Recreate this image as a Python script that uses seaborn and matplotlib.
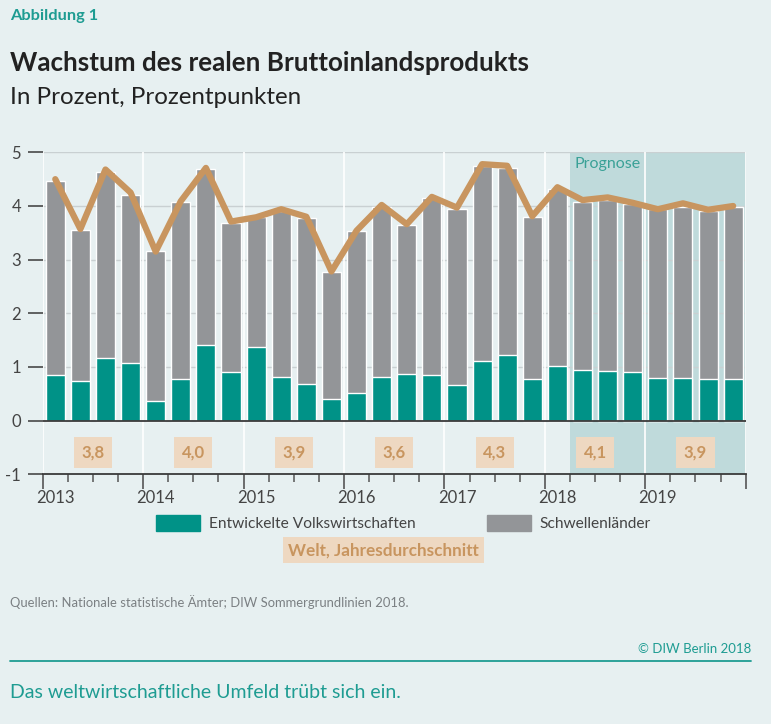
import numpy as np
import matplotlib
matplotlib.use("Agg")
import matplotlib.pyplot as plt
import matplotlib.lines as mlines
import matplotlib.patches as mpatches
from matplotlib.ticker import FixedLocator
import seaborn as sns

# Quarterly GDP growth, 2013Q1 .. 2019Q4 (from 2018Q2 on: forecast)
quarters = ["2013Q1", "2013Q2", "2013Q3", "2013Q4",
            "2014Q1", "2014Q2", "2014Q3", "2014Q4",
            "2015Q1", "2015Q2", "2015Q3", "2015Q4",
            "2016Q1", "2016Q2", "2016Q3", "2016Q4",
            "2017Q1", "2017Q2", "2017Q3", "2017Q4",
            "2018Q1", "2018Q2", "2018Q3", "2018Q4",
            "2019Q1", "2019Q2", "2019Q3", "2019Q4"]
developed = [0.85, 0.74, 1.17, 1.07, 0.37, 0.78, 1.41, 0.91,
             1.37, 0.81, 0.68, 0.40, 0.52, 0.81, 0.87, 0.85,
             0.66, 1.11, 1.22, 0.78, 1.02, 0.94, 0.93, 0.91,
             0.80, 0.80, 0.78, 0.78]
emerging = [3.62, 2.81, 3.46, 3.13, 2.79, 3.29, 3.28, 2.78,
            2.42, 3.10, 3.10, 2.37, 3.01, 3.17, 2.78, 3.30,
            3.28, 3.64, 3.49, 3.02, 3.30, 3.13, 3.18, 3.13,
            3.14, 3.18, 3.13, 3.20]
world = [4.50, 3.57, 4.68, 4.25, 3.15, 4.09, 4.71, 3.71,
         3.79, 3.94, 3.80, 2.78, 3.54, 4.02, 3.66, 4.17,
         3.97, 4.78, 4.75, 3.81, 4.35, 4.11, 4.16, 4.06,
         3.94, 4.05, 3.93, 4.00]
year_labels = ["2013", "2014", "2015", "2016", "2017", "2018", "2019"]
year_avg = [3.8, 4.0, 3.9, 3.6, 4.3, 4.1, 3.9]
forecast_start = "2018Q2"

bg = "#e7f0f1"
shade = "#bfdadb"
teal = "#009287"
teal_txt = "#1e9c92"
grey = "#939598"
tan = "#c8955f"
tan_light = "#eed8c1"
dark = "#3a3a3a"

sns.set_theme(style="white")
plt.rcParams["font.family"] = ["Lato", "DejaVu Sans"]
plt.rcParams["axes.unicode_minus"] = False

fig = plt.figure(figsize=(7.71, 7.24), dpi=100, facecolor=bg)
ax = fig.add_axes([0.0554, 0.3449, 0.9118, 0.4447])
ax.set_facecolor(bg)

n = len(quarters)
stack = np.array(developed) + np.array(emerging)
sns.barplot(x=quarters, y=stack, color=grey, width=0.76, saturation=1,
            ax=ax, zorder=3)
sns.barplot(x=quarters, y=developed, color=teal, width=0.76, saturation=1,
            ax=ax, zorder=3)
sns.lineplot(x=np.arange(n), y=world, color=tan, linewidth=4.5, ax=ax,
             zorder=4)

# forecast area
fs = quarters.index(forecast_start) - 0.5
ax.axvspan(fs, n - 0.5, color=shade, lw=0, zorder=0)
ax.text(fs + 0.2, 4.78, "Prognose", color="#3aa197", fontsize=11.5,
        ha="left", va="center", zorder=6)

# grid
year_edges = np.arange(-0.5, n, 4)
for v in range(1, 6):
    ax.axhline(v, color="#c9d0d2", lw=1, zorder=1)
for b in year_edges:
    ax.axvline(b, color="white", lw=1.2, zorder=1)
ax.axhline(0, color=dark, lw=1.3, zorder=5)

ax.set_xlim(-0.5, n - 0.5)
ax.set_ylim(-1, 5)
for s in ["top", "right", "left"]:
    ax.spines[s].set_visible(False)
ax.spines["bottom"].set_color(dark)
ax.spines["bottom"].set_linewidth(1.3)

ax.set_yticks(range(-1, 6))
ax.tick_params(axis="y", length=10.5, width=1.1, color=dark, pad=5,
               labelsize=12, labelcolor="#444444", left=True)
ax.set_xticks(year_edges)
ax.set_xticklabels([""] * len(year_edges))
ax.xaxis.set_minor_locator(FixedLocator([e + k for e in year_edges[:-1] for k in (1, 2, 3)]))
ax.tick_params(axis="x", which="major", length=11, width=1.2, color="#555555", bottom=True)
ax.tick_params(axis="x", which="minor", length=5.5, width=1.1, color="#555555", bottom=True)
ax.set_xlabel("")
ax.set_ylabel("")

for i, lab in enumerate(year_labels):
    ax.annotate(lab, xy=(i * 4, -1), xytext=(0, -17), textcoords="offset points",
                ha="center", va="center", fontsize=12, color="#444444")
    ax.text(i * 4 + 1.5, -0.6, f"{year_avg[i]:.1f}".replace(".", ","),
            ha="center", va="center", fontsize=12, fontweight="bold",
            color=tan, zorder=6,
            bbox=dict(boxstyle="square,pad=0.45", fc=tan_light, ec="none"))

# header
fig.text(10 / 771, 0.978, "Abbildung 1", fontsize=11.8, fontweight="bold",
         color=teal_txt, va="center")
fig.text(10 / 771, 0.913, "Wachstum des realen Bruttoinlandsprodukts",
         fontsize=18.7, fontweight="bold", color="#222222", va="center")
fig.text(10 / 771, 0.866, "In Prozent, Prozentpunkten", fontsize=17.4,
         color="#222222", va="center")

# legend
handles = [mpatches.Patch(color=teal), mpatches.Patch(color=grey)]
leg = fig.legend(handles, ["Entwickelte Volkswirtschaften", "Schwellenländer"],
                 loc="center left", bbox_to_anchor=(156 / 771, 0.278), ncol=2,
                 frameon=False, fontsize=11.2, handlelength=2.8,
                 handleheight=1.25, handletextpad=0.6, columnspacing=4.6,
                 borderpad=0, borderaxespad=0)
for t in leg.get_texts():
    t.set_color("#444444")
fig.text(0.497, 0.240, "Welt, Jahresdurchschnitt", ha="center", va="center",
         fontsize=12.3, fontweight="bold", color=tan,
         bbox=dict(boxstyle="square,pad=0.3", fc=tan_light, ec="none"))

# footer
fig.text(10 / 771, 0.169, "Quellen: Nationale statistische Ämter; DIW Sommergrundlinien 2018.",
         fontsize=9.4, color="#7b8083", va="center")
fig.text(751 / 771, 0.104, "© DIW Berlin 2018", fontsize=9.5, color=teal_txt,
         ha="right", va="center")
fig.add_artist(mlines.Line2D([10 / 771, 751 / 771], [0.087, 0.087],
                             color=teal_txt, lw=1.3))
fig.text(10 / 771, 0.043, "Das weltwirtschaftliche Umfeld trübt sich ein.",
         fontsize=14, color=teal_txt, va="center")

fig.savefig("out.png", dpi=100, facecolor=bg)
